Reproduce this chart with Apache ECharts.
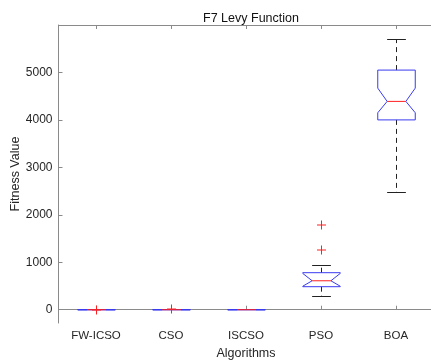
<!DOCTYPE html>
<html>
<head>
<meta charset="utf-8">
<script src="https://cdn.jsdelivr.net/npm/echarts@6/dist/echarts.min.js"></script>
<style>html,body{margin:0;padding:0;background:#fff;}#c{width:431px;height:361px;}</style>
</head>
<body>
<div id="c"></div>
<script>
var categories = ['FW-ICSO', 'CSO', 'ISCSO', 'PSO', 'BOA'];
var whiskerLow  = [0, 0, 0, 275, 2480];
var q1          = [0, 0, 0, 485, 4000];
var median      = [0, 0, 0, 610, 4390];
var q3          = [0, 0, 0, 780, 5050];
var whiskerHigh = [0, 0, 0, 925, 5700];
var notchLow    = [0, 0, 0, 495, 4150];
var notchHigh   = [0, 0, 0, 765, 4670];
var outlierCat  = [0, 1, 3, 3];
var outlierVal  = [3, 15, 1260, 1790];
var yTicks = [0, 1000, 2000, 3000, 4000, 5000];

var boxData = categories.map(function (c, i) {
  return [i, whiskerLow[i], q1[i], median[i], q3[i], whiskerHigh[i], notchLow[i], notchHigh[i]];
});
var outlierData = outlierCat.map(function (c, i) { return [c, outlierVal[i]]; });

var BLUE = '#3a3af0', RED = '#ff2020', WHISK = '#222';
function px(v) { return Math.round(v - 0.5) + 0.5; }

function renderBox(params, api) {
  var ci = api.value(0);
  var X = px(api.coord([ci, 0])[0]);
  var w = api.size([1, 0])[0] * 0.25;
  function Y(v) { return api.coord([ci, v])[1]; }
  var wl = px(Y(api.value(1))), b1 = Y(api.value(2)), md = Y(api.value(3)),
      b3 = Y(api.value(4)), wh = px(Y(api.value(5))), nl = Y(api.value(6)), nh = Y(api.value(7));
  var children = [];
  children.push({ type: 'line', shape: { x1: X, y1: b3, x2: X, y2: wh }, style: { stroke: WHISK, lineWidth: 1, lineDash: [5, 4] } });
  children.push({ type: 'line', shape: { x1: X, y1: b1, x2: X, y2: wl }, style: { stroke: WHISK, lineWidth: 1, lineDash: [5, 4] } });
  children.push({ type: 'line', shape: { x1: X - w / 2, y1: wh, x2: X + w / 2, y2: wh }, style: { stroke: WHISK, lineWidth: 1 } });
  children.push({ type: 'line', shape: { x1: X - w / 2, y1: wl, x2: X + w / 2, y2: wl }, style: { stroke: WHISK, lineWidth: 1 } });
  var pts = [[X - w, b3], [X + w, b3], [X + w, nh], [X + w / 2, md], [X + w, nl], [X + w, b1],
             [X - w, b1], [X - w, nl], [X - w / 2, md], [X - w, nh]];
  children.push({ type: 'polygon', shape: { points: pts }, style: { fill: 'none', stroke: BLUE, lineWidth: 1 } });
  children.push({ type: 'line', shape: { x1: X - w / 2, y1: md, x2: X + w / 2, y2: md }, style: { stroke: RED, lineWidth: 1 } });
  return { type: 'group', children: children };
}

function renderOutlier(params, api) {
  var p = api.coord([api.value(0), api.value(1)]);
  var X = Math.round(p[0]), Yc = Math.round(p[1]), s = 4;
  return { type: 'group', children: [
    { type: 'rect', shape: { x: X - s, y: Yc - 0.5, width: 2 * s + 1, height: 1 }, style: { fill: RED } },
    { type: 'rect', shape: { x: X, y: Yc - s - 0.5, width: 1, height: 2 * s + 1 }, style: { fill: RED } }
  ] };
}

var axisCol = '#8a8a8a', textCol = '#262626', FONT = 'Liberation Sans, Arial, sans-serif';
var chart = echarts.init(document.getElementById('c'), null, { renderer: 'canvas' });
chart.setOption({
  animation: false,
  backgroundColor: '#fff',
  title: {
    text: 'F7 Levy Function', left: 246, top: 7, textAlign: 'center',
    textStyle: { fontFamily: FONT, fontSize: 12.5, fontWeight: 'normal', color: '#111' }
  },
  grid: { left: 58.5, top: 25, width: 375, height: 298, containLabel: false, outerBoundsMode: 'none' },
  xAxis: [{
    type: 'category', data: categories, position: 'bottom',
    name: 'Algorithms', nameLocation: 'middle', nameGap: 22,
    nameTextStyle: { fontFamily: FONT, fontSize: 12.5, color: textCol },
    axisLine: { show: true, lineStyle: { color: axisCol, width: 1 } },
    axisTick: { show: true, inside: true, length: 4, alignWithLabel: true, lineStyle: { color: axisCol } },
    axisLabel: { fontFamily: FONT, fontSize: 11.5, color: textCol, margin: 7 },
    splitLine: { show: false }
  }, {
    type: 'category', data: categories, position: 'top',
    axisLine: { show: true, lineStyle: { color: axisCol, width: 1 } },
    axisTick: { show: true, inside: true, length: 4, alignWithLabel: true, lineStyle: { color: axisCol } },
    axisLabel: { show: false }, splitLine: { show: false }
  }],
  yAxis: [{
    type: 'value', min: -280, max: 6000,
    name: 'Fitness Value', nameLocation: 'middle', nameGap: 36, nameRotate: 90, nameMoveOverlap: false,
    nameTextStyle: { fontFamily: FONT, fontSize: 12.5, color: textCol },
    axisLine: { show: true, lineStyle: { color: axisCol, width: 1 } },
    axisTick: { show: true, inside: true, length: 4, customValues: yTicks, lineStyle: { color: axisCol } },
    axisLabel: { fontFamily: FONT, fontSize: 12, color: textCol, margin: 6, customValues: yTicks,
                 formatter: function (v) { return String(v); } },
    splitLine: { show: false }
  }],
  series: [{
    type: 'custom', renderItem: renderBox, data: boxData,
    encode: { x: 0, y: [1, 2, 3, 4, 5, 6, 7] }, z: 3
  }, {
    type: 'custom', renderItem: renderOutlier, data: outlierData,
    encode: { x: 0, y: 1 }, z: 4
  }]
});
</script>
</body>
</html>
